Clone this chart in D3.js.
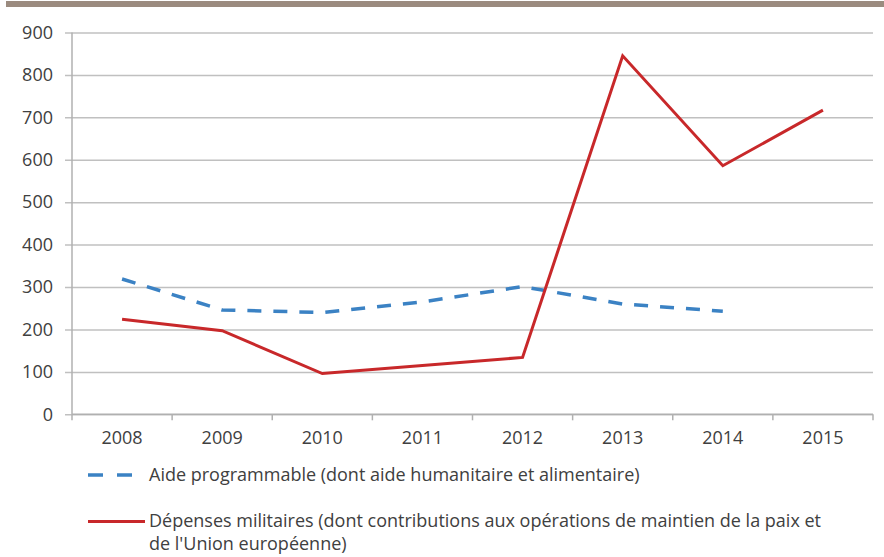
<!DOCTYPE html>
<html>
<head>
<meta charset="utf-8">
<script src="https://cdn.jsdelivr.net/npm/d3@7"></script>
<style>
  html, body { margin: 0; padding: 0; background: #fff; }
  svg { display: block; }
  text { font-family: "Open Sans", sans-serif; fill: #404040; }
</style>
</head>
<body>
<svg id="chart" width="884" height="557"></svg>
<script>
const years = ["2008", "2009", "2010", "2011", "2012", "2013", "2014", "2015"];
const aideValues = [319, 246, 240, 265, 301, 260, 243, null];
const militaryValues = [224, 197, 96, 115, 134, 845, 586, 717];
const yTicks = [0, 100, 200, 300, 400, 500, 600, 700, 800, 900];
const legendLabels = [
  "Aide programmable (dont aide humanitaire et alimentaire)",
  ["Dépenses militaires (dont contributions aux opérations de maintien de la paix et", "de l'Union européenne)"]
];

const svg = d3.select("#chart");
const plotLeft = 72, plotRight = 873, plotTop = 32.5, plotBottom = 414.3;
const fontSize = 18;

// top decorative bar
svg.append("rect").attr("x", 6).attr("y", 1).attr("width", 878).attr("height", 6).attr("fill", "#9b8b7f");

const x = d3.scaleBand().domain(years).range([plotLeft, plotRight]);
const y = d3.scaleLinear().domain([0, 900]).range([plotBottom, plotTop]);

// gridlines + y labels
const yAxis = svg.append("g")
  .attr("transform", `translate(${plotRight},0)`)
  .call(d3.axisLeft(y).tickValues(yTicks).tickSize(plotRight - 65).tickPadding(12).tickFormat(d3.format("d")));
yAxis.select(".domain").remove();
yAxis.selectAll("line").attr("stroke", "#c0c0c0").attr("stroke-width", 1.5);
yAxis.selectAll("text").attr("font-size", fontSize).attr("fill", "#404040").style("font-family", "'Open Sans', sans-serif");

// y axis line
svg.append("line").attr("x1", plotLeft).attr("x2", plotLeft).attr("y1", plotTop).attr("y2", plotBottom)
  .attr("stroke", "#b0b0b0").attr("stroke-width", 1.5);

// x axis
const xAxis = svg.append("g")
  .attr("transform", `translate(0,${plotBottom})`)
  .call(d3.axisBottom(x).tickSize(0).tickPadding(17));
xAxis.select(".domain").remove();
xAxis.selectAll("text").attr("font-size", fontSize).attr("fill", "#404040").style("font-family", "'Open Sans', sans-serif");
svg.append("line").attr("x1", plotLeft).attr("x2", plotRight).attr("y1", plotBottom).attr("y2", plotBottom)
  .attr("stroke", "#b0b0b0").attr("stroke-width", 1.5);
const boundaries = years.map(d => x(d)).concat([x(years[years.length - 1]) + x.bandwidth()]);
svg.append("g").selectAll("line").data(boundaries).join("line")
  .attr("x1", d => d).attr("x2", d => d).attr("y1", plotBottom).attr("y2", plotBottom + 6)
  .attr("stroke", "#b0b0b0").attr("stroke-width", 1.5);

const cx = d => x(d) + x.bandwidth() / 2;

const aideData = years.map((yr, i) => ({ yr, v: aideValues[i] })).filter(d => d.v != null);
const milData = years.map((yr, i) => ({ yr, v: militaryValues[i] }));

const line = d3.line().x(d => cx(d.yr)).y(d => y(d.v));

svg.append("path").datum(aideData).attr("d", line)
  .attr("fill", "none").attr("stroke", "#3b82c4").attr("stroke-width", 3.5)
  .attr("stroke-dasharray", "14,12");

svg.append("path").datum(milData).attr("d", line)
  .attr("fill", "none").attr("stroke", "#c8282a").attr("stroke-width", 3)
  .attr("stroke-linejoin", "miter");

// legend
const lg = svg.append("g");
lg.append("line").attr("x1", 88).attr("x2", 133).attr("y1", 475).attr("y2", 475)
  .attr("stroke", "#3b82c4").attr("stroke-width", 3.5).attr("stroke-dasharray", "15,14");
lg.append("text").attr("x", 149).attr("y", 481).attr("font-size", fontSize).text(legendLabels[0]);
lg.append("line").attr("x1", 88).attr("x2", 145).attr("y1", 521.5).attr("y2", 521.5)
  .attr("stroke", "#c8282a").attr("stroke-width", 3);
lg.append("text").attr("x", 149).attr("y", 527).attr("font-size", fontSize).text(legendLabels[1][0]);
lg.append("text").attr("x", 149).attr("y", 550).attr("font-size", fontSize).text(legendLabels[1][1]);
</script>
</body>
</html>
